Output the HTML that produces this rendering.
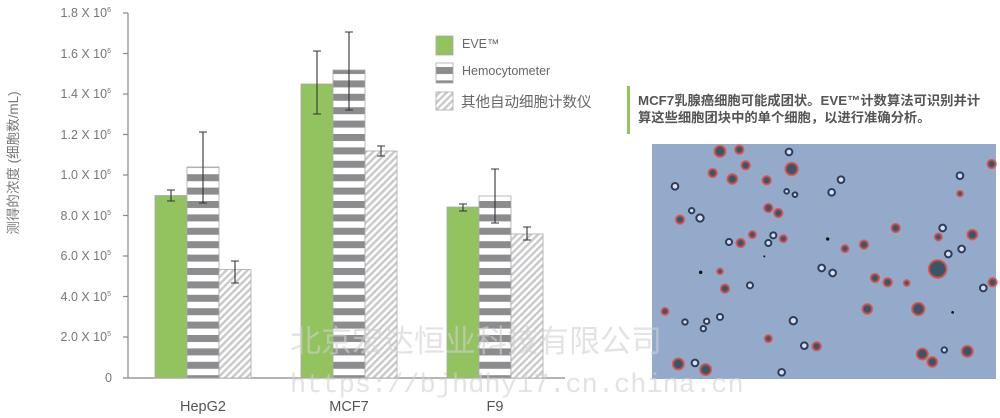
<!DOCTYPE html>
<html><head><meta charset="utf-8"><style>
html,body{margin:0;padding:0;background:#fff;width:1000px;height:418px;overflow:hidden}
svg{display:block}
</style></head><body>
<svg width="1000" height="418" viewBox="0 0 1000 418" xmlns="http://www.w3.org/2000/svg" font-family="Liberation Sans, Noto Sans CJK SC, sans-serif">
<defs>
<pattern id="hs" width="10" height="13.4" patternUnits="userSpaceOnUse">
<rect width="10" height="13.4" fill="#fff"/><rect y="0" width="10" height="7" fill="#8c8c8f"/>
</pattern>
<pattern id="dg" width="5" height="5" patternUnits="userSpaceOnUse" patternTransform="rotate(-45)">
<rect width="5" height="5" fill="#fff"/><rect width="5" height="2.4" fill="#c9c9cb"/>
</pattern>
</defs>
<g stroke="#888" stroke-width="1.2">
<line x1="128" y1="13" x2="128" y2="378"/>
<line x1="123" y1="378" x2="565" y2="378"/>
<line x1="123" y1="13" x2="128" y2="13"/><line x1="123" y1="53.5" x2="128" y2="53.5"/>
<line x1="123" y1="94" x2="128" y2="94"/><line x1="123" y1="134.5" x2="128" y2="134.5"/>
<line x1="123" y1="175" x2="128" y2="175"/><line x1="123" y1="215.5" x2="128" y2="215.5"/>
<line x1="123" y1="256" x2="128" y2="256"/><line x1="123" y1="296.5" x2="128" y2="296.5"/>
<line x1="123" y1="337" x2="128" y2="337"/>
</g>
<g font-size="12.5" fill="#777" text-anchor="end">
<text x="111" y="17">1.8 X 10<tspan font-size="7" dy="-5">6</tspan></text>
<text x="111" y="58">1.6 X 10<tspan font-size="7" dy="-5">6</tspan></text>
<text x="111" y="98">1.4 X 10<tspan font-size="7" dy="-5">6</tspan></text>
<text x="111" y="139">1.2 X 10<tspan font-size="7" dy="-5">6</tspan></text>
<text x="111" y="179">1.0 X 10<tspan font-size="7" dy="-5">6</tspan></text>
<text x="111" y="220">8.0 X 10<tspan font-size="7" dy="-5">5</tspan></text>
<text x="111" y="260">6.0 X 10<tspan font-size="7" dy="-5">5</tspan></text>
<text x="111" y="301">4.0 X 10<tspan font-size="7" dy="-5">5</tspan></text>
<text x="111" y="341">2.0 X 10<tspan font-size="7" dy="-5">5</tspan></text>
<text x="112" y="382">0</text>
</g>
<text transform="translate(18,163) rotate(-90)" font-size="13.5" fill="#777" text-anchor="middle">测得的浓度 (细胞数/mL)</text>
<g stroke="#aaa" stroke-width="0.8">
<rect x="155" y="195.5" width="32" height="182.5" fill="#93c35f"/>
<rect x="187" y="167" width="32" height="211" fill="url(#hs)"/>
<rect x="219" y="269.5" width="32" height="108.5" fill="url(#dg)"/>
<rect x="301" y="84" width="32" height="294" fill="#93c35f"/>
<rect x="333" y="70" width="32" height="308" fill="url(#hs)"/>
<rect x="365" y="151" width="32" height="227" fill="url(#dg)"/>
<rect x="447" y="207" width="32" height="171" fill="#93c35f"/>
<rect x="479" y="196" width="32" height="182" fill="url(#hs)"/>
<rect x="511" y="234" width="32" height="144" fill="url(#dg)"/>
</g>
<g stroke="#333" stroke-width="1.1">
<path d="M171 190V201M167 190H175M167 201H175"/>
<path d="M203 132V203M199 132H207M199 203H207"/>
<path d="M235 261V283M231 261H239M231 283H239"/>
<path d="M317 51V114M313 51H321M313 114H321"/>
<path d="M349 32V110M345 32H353M345 110H353"/>
<path d="M381 146V156M377 146H385M377 156H385"/>
<path d="M463 204V211M459 204H467M459 211H467"/>
<path d="M495 169V223M491 169H499M491 223H499"/>
<path d="M527 227V240M523 227H531M523 240H531"/>
</g>
<g font-size="14.5" fill="#555" text-anchor="middle">
<text x="203" y="411">HepG2</text><text x="349" y="411">MCF7</text><text x="495" y="411">F9</text>
</g>
<rect x="436" y="36" width="17" height="19" fill="#93c35f" stroke="#aaa" stroke-width="0.8"/>
<rect x="436" y="63" width="17" height="20" fill="url(#hs)" stroke="#aaa" stroke-width="0.8"/>
<rect x="436" y="92" width="17" height="18" fill="url(#dg)" stroke="#aaa" stroke-width="0.8"/>
<g fill="#666">
<text x="462" y="48" font-size="12.5">EVE™</text>
<text x="462" y="75" font-size="12.5">Hemocytometer</text>
<text x="461" y="107" font-size="14.5">其他自动细胞计数仪</text>
</g>
<rect x="627" y="86" width="3" height="48" fill="#93c35f"/>
<g fill="#555" font-size="13.3" font-weight="bold">
<text x="638" y="105">MCF7乳腺癌细胞可能成团状。EVE™计数算法可识别并计</text>
<text x="638" y="122">算这些细胞团块中的单个细胞，以进行准确分析。</text>
</g>
<rect x="652" y="144" width="344" height="235" fill="#93aacb"/>
<g transform="translate(645,138) scale(0.3333)">
<g fill="#3c5468" stroke="#e0493a" stroke-width="7" stroke-opacity="0.75">
<circle cx="225" cy="40" r="16"/><circle cx="283" cy="35" r="12"/><circle cx="302" cy="82" r="12"/>
<circle cx="203" cy="105" r="12"/><circle cx="262" cy="123" r="14"/><circle cx="365" cy="127" r="12"/>
<circle cx="440" cy="93" r="18"/><circle cx="370" cy="210" r="12"/><circle cx="400" cy="225" r="12"/>
<circle cx="105" cy="245" r="12"/><circle cx="322" cy="290" r="10"/><circle cx="287" cy="315" r="12"/>
<circle cx="415" cy="302" r="10"/><circle cx="600" cy="332" r="10"/><circle cx="657" cy="320" r="12"/>
<circle cx="752" cy="270" r="12"/><circle cx="880" cy="297" r="10"/><circle cx="982" cy="290" r="14"/>
<circle cx="1040" cy="78" r="12"/><circle cx="945" cy="167" r="8"/><circle cx="878" cy="393" r="26"/>
<circle cx="690" cy="420" r="12"/><circle cx="728" cy="433" r="12"/><circle cx="785" cy="435" r="8"/>
<circle cx="225" cy="400" r="8"/><circle cx="240" cy="452" r="12"/><circle cx="667" cy="513" r="14"/>
<circle cx="820" cy="513" r="18"/><circle cx="60" cy="520" r="10"/><circle cx="370" cy="602" r="10"/>
<circle cx="515" cy="625" r="12"/><circle cx="832" cy="648" r="16"/><circle cx="862" cy="672" r="14"/>
<circle cx="967" cy="640" r="16"/><circle cx="100" cy="678" r="16"/><circle cx="182" cy="695" r="16"/>
<circle cx="1043" cy="433" r="12"/>
</g>
<g fill="#dde" stroke="#2a3d5a" stroke-width="6">
<circle cx="90" cy="145" r="10"/><circle cx="432" cy="42" r="10"/><circle cx="588" cy="125" r="10"/>
<circle cx="425" cy="160" r="7"/><circle cx="450" cy="170" r="7"/><circle cx="560" cy="163" r="10"/>
<circle cx="165" cy="240" r="11"/><circle cx="140" cy="218" r="8"/><circle cx="252" cy="312" r="9"/>
<circle cx="385" cy="292" r="9"/><circle cx="370" cy="315" r="9"/><circle cx="530" cy="390" r="10"/>
<circle cx="563" cy="405" r="10"/><circle cx="315" cy="442" r="9"/><circle cx="893" cy="270" r="10"/>
<circle cx="910" cy="348" r="10"/><circle cx="950" cy="333" r="10"/><circle cx="1015" cy="450" r="10"/>
<circle cx="445" cy="548" r="11"/><circle cx="478" cy="623" r="10"/><circle cx="225" cy="537" r="9"/>
<circle cx="185" cy="550" r="8"/><circle cx="175" cy="572" r="8"/><circle cx="120" cy="552" r="8"/>
<circle cx="150" cy="675" r="10"/><circle cx="410" cy="703" r="10"/><circle cx="945" cy="113" r="10"/>
<circle cx="898" cy="636" r="8"/>
</g>
<g fill="#111"><circle cx="548" cy="303" r="5"/><circle cx="167" cy="403" r="5"/><circle cx="358" cy="355" r="3"/><circle cx="923" cy="523" r="4"/></g>
</g>
<text x="290" y="352" font-size="31" fill="#d0d0d0" fill-opacity="0.6" font-family="Noto Sans CJK SC, sans-serif">北京宏达恒业科技有限公司</text>
<text x="290" y="392" font-size="27" fill="#d0d0d0" fill-opacity="0.6" font-family="Liberation Mono, monospace">https://bjhdhy17.cn.china.cn</text>
</svg>
</body></html>
